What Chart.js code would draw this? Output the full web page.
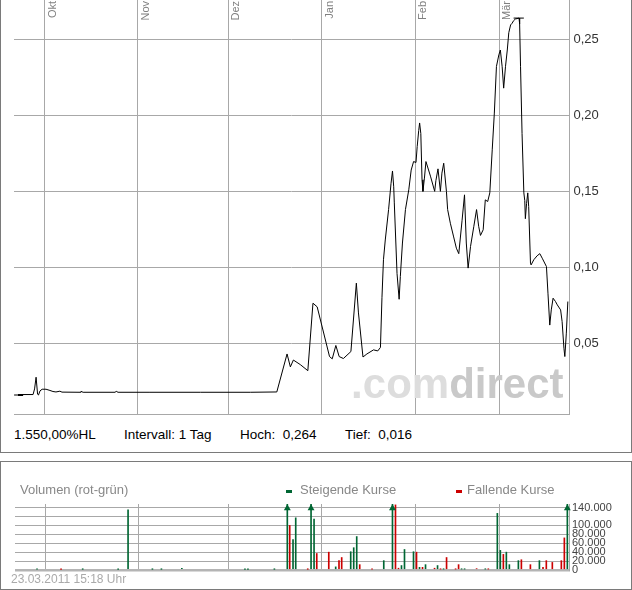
<!DOCTYPE html>
<html>
<head>
<meta charset="utf-8">
<script src="https://cdn.jsdelivr.net/npm/chart.js@4.4.1/dist/chart.umd.min.js"></script>
<style>
body { margin: 0; background: #fff; font-family: "Liberation Sans", Arial, sans-serif; }
.panel { position: absolute; left: 0; width: 630px; border: 1px solid #7a7a7a; }
#topPanel { top: -1px; height: 452px; }
#volPanel { top: 461px; height: 127px; }
canvas { position: absolute; left: 0; }
#priceCanvas { top: 0; }
#volCanvas { top: 495px; }
.txt { position: absolute; white-space: pre; }
.info { top: 427px; font-size: 13.5px; line-height: 16px; color: #000; }
.grey { color: #888; font-size: 13px; line-height: 16px; }
.dash { position: absolute; width: 6px; height: 3px; top: 490px; }
</style>
</head>
<body>
<div class="panel" id="topPanel"></div>
<div class="panel" id="volPanel"></div>
<canvas id="priceCanvas" width="632" height="416"></canvas>
<canvas id="volCanvas" width="632" height="80"></canvas>

<div class="txt info" style="left:14px">1.550,00%HL</div>
<div class="txt info" style="left:124px">Intervall: 1 Tag</div>
<div class="txt info" style="left:240px">Hoch:  0,264</div>
<div class="txt info" style="left:345px">Tief:  0,016</div>

<div class="txt grey" style="left:20px; top:482px">Volumen (rot-grün)</div>
<div class="dash" style="left:286px; background:#006633"></div>
<div class="txt grey" style="left:300px; top:482px">Steigende Kurse</div>
<div class="dash" style="left:456px; background:#cc0000"></div>
<div class="txt grey" style="left:467px; top:482px">Fallende Kurse</div>
<div class="txt" style="left:11px; top:572px; font-size:12px; line-height:14px; color:#aaa">23.03.2011 15:18 Uhr</div>

<script>
// x = Kalendertage ab 1. Okt 2010
const xMin = -10.13;
const xMax = 174.25;
const monthLabels = ['Okt', 'Nov', 'Dez', 'Jan', 'Feb', 'Mär'];
const monthDays = [0, 31, 61, 92, 123, 151];

const priceDays = [
    -10.1, -8.8, -8.5, -3.8, -3.3, -2.8, -2.3, -2.0, -1.5, -0.8, 0.5, 1.8, 2.8, 3.8, 5.1, 5.8,
    11.8, 12.1, 12.8, 23.4, 23.8, 24.4, 35.0, 51.7, 68.3, 77.1,
    80.5, 81.6, 82.6, 84.9, 87.4, 89.1, 90.5, 94.6, 95.5, 96.7, 97.8, 99.2, 101.7, 103.5, 104.2,
    105.7, 107.0, 109.2, 110.6, 111.5, 112.0, 112.5, 113.1, 114.2, 115.0, 115.5, 115.9, 116.1,
    117.0, 117.7, 118.1, 118.8, 119.8, 120.9, 121.7, 122.5, 123.3, 123.7, 124.2, 124.5, 124.9,
    125.3, 125.6, 126.1, 126.6, 128.1, 129.5, 129.9, 130.6, 131.4, 131.9, 132.5, 133.4, 133.8,
    134.7, 135.8, 136.7, 137.5, 138.6, 139.4, 140.0, 140.6, 141.4, 142.5, 143.4, 144.1, 144.7,
    145.6, 146.3, 147.1, 147.8, 148.6, 149.3, 150.0, 150.8, 151.3, 151.9, 152.4, 153.0, 153.6,
    154.1, 154.7, 155.2, 155.7, 156.3, 157.5, 157.7, 158.0, 158.5, 159.1, 159.4, 159.6, 160.0,
    160.4, 160.7, 161.3, 161.5, 162.4, 163.5, 164.4, 165.2, 166.6, 167.1, 167.7, 168.2, 168.8,
    169.6, 170.2, 171.3, 171.8, 172.4, 172.7, 173.2, 173.7
];
const priceValues = [
    0.016, 0.016, 0.0163, 0.0163, 0.020, 0.0277, 0.0165, 0.016, 0.0187, 0.0198, 0.0198, 0.019, 0.0183, 0.018, 0.0185, 0.0179,
    0.0178, 0.0184, 0.0178, 0.0178, 0.0184, 0.0178, 0.0178, 0.0178, 0.0178, 0.018,
    0.043, 0.0345, 0.039, 0.036, 0.032, 0.0764, 0.074, 0.0413, 0.0398, 0.0486, 0.0413, 0.040, 0.0446, 0.0896, 0.070,
    0.041, 0.043, 0.0457, 0.045, 0.0473, 0.080, 0.105, 0.118, 0.138, 0.155, 0.1634, 0.153, 0.1424,
    0.096, 0.079, 0.094, 0.116, 0.138, 0.151, 0.164, 0.1696, 0.169, 0.1795, 0.190, 0.195, 0.188,
    0.1576, 0.150, 0.1587, 0.1696, 0.160, 0.150, 0.157, 0.1648, 0.150, 0.162, 0.1685, 0.150, 0.138,
    0.129, 0.120, 0.1126, 0.109, 0.131, 0.1477, 0.116, 0.0995, 0.1137, 0.127, 0.138, 0.127, 0.121,
    0.1247, 0.1444, 0.1433, 0.149, 0.1773, 0.2015, 0.2322, 0.2398, 0.243, 0.232, 0.2179, 0.232, 0.243,
    0.2544, 0.2595, 0.2606, 0.2623, 0.2634, 0.264, 0.2602, 0.232, 0.188, 0.149, 0.144, 0.132, 0.142,
    0.149, 0.140, 0.1028, 0.1016, 0.105, 0.1076, 0.109, 0.106, 0.1005, 0.083, 0.062, 0.072, 0.0797,
    0.0775, 0.0753, 0.072, 0.0643, 0.0468, 0.0413, 0.0567, 0.0775
];
const hoch = 0.264;
const hochDays = [155.7, 159.1];
const tief = 0.016;
const tiefDays = [-8.8, -7.1];
const priceTicks = [0.05, 0.10, 0.15, 0.20, 0.25];

const upDays = [
    -2.8, 12.4, 24.2, 27.5, 35.6, 38.6, 45.4, 66.4, 67.4, 76.2, 80.5, 82.4, 83.3, 88.4, 89.4,
    96.6, 101.6, 102.6, 103.6, 112.6, 115.5, 118.5, 119.5, 122.5, 124.5, 126.5, 130.5, 132.5,
    138.5, 139.5, 146.4, 150.4, 151.4, 153.4, 154.4, 157.4, 164.4, 173.7
];
const upVolumes = [
    2000, 1500, 1500, 135000, 1500, 1500, 4000, 1500, 1500, 1500, 180000, 68000, 117000, 180000, 114000,
    7000, 41000, 50000, 75000, 21000, 180000, 10000, 46000, 41000, 6000, 12000, 10000, 2000,
    2000, 2000, 2000, 127000, 44000, 40000, 12000, 21000, 21000, 180000
];
const downDays = [
    5.2, 81.3, 87.3, 90.3, 94.3, 97.7, 98.6, 104.6, 108.7, 116.5, 117.5, 123.5, 125.5, 129.5,
    131.5, 133.5, 136.5, 137.5, 143.5, 147.4, 152.4, 158.4, 161.4, 165.6, 166.7, 168.7, 171.7, 172.7
];
const downVolumes = [
    1500, 100000, 1500, 37000, 40000, 21000, 28000, 12000, 2000, 146000, 4000, 40000, 6000, 4000,
    2000, 28000, 2000, 12000, 3000, 2000, 35000, 23000, 12000, 6000, 21000, 17000, 21000, 72000
];
const volumeMax = 148000;
const volumeTicks = [0, 20000, 40000, 60000, 80000, 100000, 120000, 140000];

const GRID = '#a8a8a8';
const GREEN = '#006633';
const RED = '#cc0000';

function pts(xs, ys) {
    return xs.map((x, i) => ({ x: x, y: ys[i] }));
}

// keine Extra-Abstaende fuer die Achsenbeschriftung
function noPad(a) {
    a.paddingTop = 0;
    a.paddingBottom = 0;
    a.paddingLeft = 0;
    a.paddingRight = 0;
}

// Monatsnamen senkrecht oben an den Gitterlinien
const monthLabelPlugin = {
    id: 'monthLabels',
    afterDraw(chart) {
        const ctx = chart.ctx;
        const xs = chart.scales.x;
        ctx.save();
        ctx.font = '11px "Liberation Sans", Arial, sans-serif';
        ctx.fillStyle = '#808080';
        ctx.textAlign = 'right';
        monthDays.forEach((d, i) => {
            ctx.save();
            ctx.translate(Math.round(xs.getPixelForValue(d)) + 11, 1);
            ctx.rotate(-Math.PI / 2);
            ctx.fillText(monthLabels[i], 0, 0);
            ctx.restore();
        });
        ctx.restore();
    }
};

// Wasserzeichen
const watermarkPlugin = {
    id: 'watermark',
    beforeDatasetsDraw(chart) {
        const ctx = chart.ctx;
        const right = chart.chartArea.right - 6;
        const base = chart.chartArea.bottom - 16;
        ctx.save();
        ctx.font = 'bold 42px "Liberation Sans", Arial, sans-serif';
        ctx.textAlign = 'right';
        ctx.fillStyle = '#c9c9c9';
        ctx.fillText('direct', right, base);
        const w = ctx.measureText('direct').width;
        ctx.fillStyle = '#dddddd';
        ctx.fillText('.com', right - w, base);
        ctx.restore();
    }
};

new Chart(document.getElementById('priceCanvas'), {
    type: 'line',
    data: {
        datasets: [
            { data: pts(hochDays, hochDays.map(() => hoch)), borderColor: '#000', borderWidth: 1, pointRadius: 0 },
            { data: pts(tiefDays, tiefDays.map(() => tief)), borderColor: '#000', borderWidth: 2, pointRadius: 0 },
            { data: pts(priceDays, priceValues), borderColor: '#000', borderWidth: 1, pointRadius: 0, tension: 0 }
        ]
    },
    options: {
        responsive: false,
        animation: false,
        clip: false,
        plugins: { legend: { display: false }, tooltip: { enabled: false } },
        layout: { padding: { left: 14, top: 0, right: 0, bottom: 2 } },
        scales: {
            x: {
                type: 'linear', min: xMin, max: xMax,
                afterBuildTicks: a => { a.ticks = monthDays.map(v => ({ value: v })); },
                afterFit: a => { a.height = 0; noPad(a); },
                ticks: { display: false },
                grid: { color: GRID, drawTicks: false },
                border: { color: GRID }
            },
            y: {
                position: 'right', min: 0.0035, max: 0.2759,
                afterBuildTicks: a => { a.ticks = priceTicks.map(v => ({ value: v })); },
                afterFit: a => { a.width = 62.5; noPad(a); },
                ticks: {
                    callback: v => v.toFixed(2).replace('.', ','),
                    font: { family: '"Liberation Sans", Arial, sans-serif', size: 13 },
                    color: '#333', padding: 4, autoSkip: false
                },
                grid: { color: GRID, drawTicks: false },
                border: { color: GRID }
            }
        }
    },
    plugins: [monthLabelPlugin, watermarkPlugin]
});

const arrowPoints = pts(upDays, upVolumes).filter(p => p.y > volumeMax).map(p => ({ x: p.x, y: 138500 }));

new Chart(document.getElementById('volCanvas'), {
    type: 'bar',
    data: {
        datasets: [
            { type: 'scatter', data: arrowPoints, pointStyle: 'triangle', pointRadius: 4,
              backgroundColor: GREEN, borderColor: GREEN, borderWidth: 0, clip: false },
            { label: 'Steigende Kurse', data: pts(upDays, upVolumes), backgroundColor: GREEN, barThickness: 1, grouped: false },
            { label: 'Fallende Kurse', data: pts(downDays, downVolumes), backgroundColor: RED, barThickness: 1, grouped: false }
        ]
    },
    options: {
        responsive: false,
        animation: false,
        plugins: { legend: { display: false }, tooltip: { enabled: false } },
        layout: { padding: { left: 15, top: 9, right: 0, bottom: 5 } },
        scales: {
            x: {
                type: 'linear', min: xMin, max: xMax, offset: false,
                afterBuildTicks: a => { a.ticks = monthDays.map(v => ({ value: v })); },
                afterFit: a => { a.height = 0; noPad(a); },
                ticks: { display: false },
                grid: { color: GRID, drawTicks: false, offset: false },
                border: { display: false }
            },
            y: {
                position: 'right', min: 0, max: volumeMax,
                afterBuildTicks: a => { a.ticks = volumeTicks.map(v => ({ value: v })); },
                afterFit: a => { a.width = 63; noPad(a); },
                ticks: {
                    callback: v => v === 120000 ? '' : String(v).replace(/\B(?=(\d{3})+(?!\d))/g, '.'),
                    font: { family: '"Liberation Sans", Arial, sans-serif', size: 11 },
                    color: '#444', padding: 3, autoSkip: false
                },
                grid: {
                    color: c => c.tick && c.tick.value === 0 ? '#b4b4b4' : GRID,
                    lineWidth: c => c.tick && c.tick.value === 0 ? 2.5 : 1,
                    drawTicks: false
                },
                border: { color: GRID }
            }
        }
    }
});
</script>
</body>
</html>
